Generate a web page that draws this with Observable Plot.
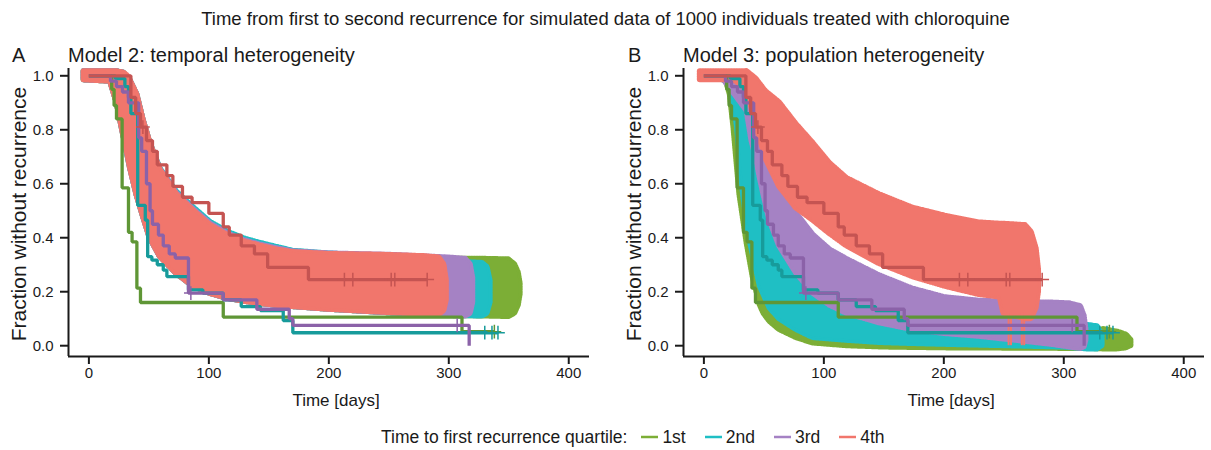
<!DOCTYPE html>
<html><head><meta charset="utf-8">
<script src="https://cdn.jsdelivr.net/npm/d3@7"></script>
<script src="https://cdn.jsdelivr.net/npm/@observablehq/plot@0.6"></script>
<style>
body{margin:0;background:#fff;font-family:"Liberation Sans",Arial,sans-serif;color:#1a1a1a}
#fig{position:relative;width:1211px;height:450px;overflow:hidden;background:#fff}
.abs{position:absolute;white-space:nowrap}
.panel{position:absolute;top:40px}
</style></head><body><div id="fig"></div>
<script>
// ---------- data ----------
const quartiles = ["1st", "2nd", "3rd", "4th"];
const bandColors = ["#7cae36", "#1fbfc4", "#a582c4", "#f1766c"];
const lineColors = ["#5f9636", "#179b9b", "#8b62a8", "#c55452"];
const xTicks = [0, 100, 200, 300, 400];
const yTicks = [0, 0.2, 0.4, 0.6, 0.8, 1.0];
const xDomain = [-17, 417.3];
const yDomain = [-0.04, 1.027];

// observed Kaplan-Meier curves [time, fraction] (same data in both panels)
const obs1 = [[0,1],[19,0.95],[21,0.89],[23,0.84],[27.7,0.585],[33,0.42],[36,0.385],[40,0.213],[43,0.16],[112,0.106],[311,0.052],[338,0.052]];
const obs2 = [[0,1],[22,0.99],[30,0.96],[33,0.92],[35,0.86],[40.7,0.52],[47,0.465],[49,0.33],[52.5,0.317],[57,0.30],[62,0.28],[65,0.256],[83,0.207],[95,0.195],[112,0.17],[127,0.145],[143,0.13],[162,0.093],[170,0.048],[341,0.048]];
const obs3 = [[0,1],[18,0.98],[23,0.96],[28,0.94],[33,0.9],[41.5,0.77],[44,0.72],[48,0.6],[51,0.5],[53,0.45],[58,0.41],[62,0.37],[67,0.34],[72,0.325],[83,0.195],[112,0.17],[140,0.135],[167,0.10],[170,0.075],[317,0]];
const obs4 = [[0,1],[35,0.92],[39,0.86],[43,0.81],[48,0.76],[53,0.72],[57,0.67],[65,0.63],[70,0.59],[78,0.55],[86,0.53],[100,0.49],[112,0.44],[117,0.41],[127,0.37],[138,0.34],[149,0.29],[183,0.245],[282,0.245]];

// censoring marks on observed curves
const cens1 = [[338,0.052]];
const cens2 = [[330,0.048],[336,0.048],[341,0.048]];
const cens3 = [[85,0.195],[307,0.075]];
const cens4 = [[45,0.81],[213,0.245],[220,0.245],[252,0.245],[255,0.245],[282,0.245]];

// simulated envelopes [time, lower, upper] -- Model 2 (panel A)
const simA1 = [[-4,.985,1.015],[18,.98,1.015],[23.5,.9,1.015],[29,.78,1.01],[34.6,.66,.98],[40,.56,.93],[45.6,.477,.83],[51,.4,.75],[59.5,.33,.65],[73,.268,.56],[87,.22,.5],[101,.194,.446],[115,.176,.41],[129,.165,.385],[142,.157,.37],[156,.15,.355],[170,.145,.345],[200,.135,.338],[250,.122,.33],[300,.112,.32],[330,.11,.32],[350,.108,.318],[355,.12,.3],[358,.15,.27],[359.5,.19,.23]];
const simA2 = [[-4,.985,1.015],[18,.98,1.015],[23.5,.9,1.015],[29,.78,1.01],[34.6,.66,.98],[40,.56,.93],[45.6,.477,.83],[51,.4,.75],[59.5,.33,.655],[73,.268,.57],[87,.22,.512],[101,.194,.458],[115,.176,.422],[129,.165,.397],[142,.157,.38],[156,.15,.365],[170,.145,.35],[200,.135,.34],[250,.122,.33],[300,.112,.31],[328,.11,.305],[332,.12,.29],[334.5,.16,.24]];
const simA3 = [[-4,.985,1.015],[18,.98,1.015],[23.5,.9,1.015],[29,.78,1.01],[34.6,.66,.98],[40,.56,.93],[45.6,.477,.83],[51,.4,.75],[59.5,.33,.652],[73,.268,.565],[87,.22,.505],[101,.194,.452],[115,.176,.416],[129,.165,.39],[142,.157,.374],[156,.15,.36],[170,.145,.348],[200,.135,.34],[250,.122,.335],[300,.112,.325],[314,.11,.32],[318,.12,.3],[320,.16,.25]];
const simA4 = [[-4,.985,1.015],[18,.98,1.015],[23.5,.9,1.015],[29,.78,1.01],[32,.72,1.0],[34.6,.66,.98],[40,.56,.93],[45.6,.477,.83],[51,.4,.75],[59.5,.33,.65],[73,.268,.56],[87,.22,.5],[101,.194,.446],[115,.176,.41],[129,.165,.385],[142,.157,.37],[156,.15,.355],[170,.145,.345],[200,.135,.338],[244,.124,.335],[280,.117,.33],[292,.115,.325],[296,.13,.3],[298,.17,.24]];

// simulated envelopes -- Model 3 (panel B)
const simB1 = [[18,.99,1.01],[22,.93,.97],[25,.81,.88],[30,.56,.7],[36,.38,.5],[41,.256,.36],[47,.15,.25],[50,.12,.2],[55,.09,.16],[63,.06,.11],[77,.03,.06],[91,.01,.04],[119,0,.022],[150,-.005,.015],[200,-.008,.012],[300,-.01,.015],[320,-.01,.03],[333,-.012,.06],[345,-.012,.05],[352,-.008,.04],[356,0,.02]];
const simB2 = [[14,.99,1.01],[22,.97,1.01],[25,.9,1],[28,.81,.97],[33,.56,.92],[36,.46,.88],[39,.38,.8],[44,.28,.71],[47,.22,.65],[55,.14,.52],[63,.1,.41],[77,.06,.29],[91,.03,.215],[105,.025,.17],[119,.02,.135],[146,.012,.1],[174,.008,.08],[201,.005,.07],[250,0,.07],[300,-.005,.07],[320,-.012,.075],[328,-.012,.07],[332,0,.04]];
const simB3 = [[16,.99,1.01],[36,.87,1],[40,.76,.96],[44,.69,.9],[47,.62,.84],[50,.56,.77],[55,.465,.69],[63,.37,.6],[77,.27,.49],[91,.195,.41],[105,.15,.355],[119,.12,.32],[146,.085,.26],[174,.06,.21],[201,.045,.178],[229,.035,.165],[260,.02,.16],[290,.005,.158],[305,-.005,.155],[314,-.01,.145],[317,-.005,.11],[318.5,.02,.06]];
const simB4 = [[-3,.985,1.015],[25,.985,1.015],[36,.95,1.015],[43,.83,.99],[44,.81,.985],[50,.72,.95],[52,.69,.94],[63,.59,.9],[77,.51,.82],[91,.465,.75],[105,.415,.675],[119,.37,.62],[146,.305,.56],[174,.256,.51],[201,.22,.48],[229,.19,.455],[247,.18,.45],[250,.12,.45],[268,.1,.445],[273,.1,.42],[277,.14,.36],[279,.2,.28]];
const stripesB4 = [[254,0,.12],[256,0,.12],[265,0,.12],[267,0,.12]];

// ---------- drawing ----------
const observed = [obs1, obs2, obs3, obs4];
const censors = [cens1, cens2, cens3, cens4];
const font = '"Liberation Sans", Arial, sans-serif';

function panel(bands, stripes, width, marginRight) {
  const marks = [];
  bands.forEach((b, i) => {
    const rows = b.map(([t, lo, hi]) => ({t, lo, hi}));
    // ragged outline imitating the censoring crosses of the simulated curves
    marks.push(Plot.areaY(rows, {x: "t", y1: "lo", y2: "hi", fill: "none", stroke: bandColors[i], strokeWidth: 6, strokeDasharray: "1,1.6"}));
    marks.push(Plot.areaY(rows, {x: "t", y1: "lo", y2: "hi", fill: bandColors[i], stroke: bandColors[i], strokeWidth: 1.5}));
  });
  if (stripes) marks.push(Plot.ruleX(stripes, {x: d => d[0], y1: d => d[1], y2: d => d[2], stroke: bandColors[3], strokeWidth: 2}));
  observed.forEach((o, i) => {
    marks.push(Plot.line(o.map(([t, s]) => ({t, s})),
      {x: "t", y: "s", curve: "step-after", stroke: lineColors[i], strokeWidth: 3.3, strokeLinejoin: "miter", strokeLinecap: "butt"}));
  });
  censors.forEach((c, i) => {
    marks.push(Plot.dot(c.map(([t, s]) => ({t, s})), {x: "t", y: "s", symbol: "plus", r: 4.5, stroke: lineColors[i], strokeWidth: 1.5}));
  });
  marks.push(Plot.ruleY([yDomain[0]], {stroke: "#1a1a1a", strokeWidth: 2}));
  marks.push(Plot.ruleX([xDomain[0]], {stroke: "#1a1a1a", strokeWidth: 2}));
  marks.push(Plot.axisX({ticks: xTicks, tickSize: 8, tickPadding: 3, label: null, strokeWidth: 2, stroke: "#1a1a1a"}));
  marks.push(Plot.axisY({ticks: yTicks, tickFormat: d3.format(".1f"), tickSize: 8, tickPadding: 7, label: null, strokeWidth: 2, stroke: "#1a1a1a"}));
  return Plot.plot({
    width, height: 375, marginLeft: 68, marginRight, marginTop: 28, marginBottom: 59,
    x: {domain: xDomain}, y: {domain: yDomain},
    style: {fontSize: "15px", fontFamily: font, color: "#1a1a1a", background: "transparent"},
    marks
  });
}

const fig = document.getElementById("fig");
function addText(txt, css) {
  const d = document.createElement("div");
  d.className = "abs";
  d.textContent = txt;
  Object.assign(d.style, css);
  fig.appendChild(d);
  return d;
}

const pA = panel([simA1, simA2, simA3, simA4], null, 605, 16);
pA.classList.add("panel"); pA.style.left = "0px"; fig.appendChild(pA);
const pB = panel([simB1, simB2, simB3, simB4], stripesB4, 596, 7);
pB.classList.add("panel"); pB.style.left = "615px"; fig.appendChild(pB);

addText("Time from first to second recurrence for simulated data of 1000 individuals treated with chloroquine",
  {left: "0px", width: "1211px", textAlign: "center", top: "9px", fontSize: "18.5px", lineHeight: "19px"});
addText("A", {left: "12px", top: "45px", fontSize: "20px", lineHeight: "20px"});
addText("Model 2: temporal heterogeneity", {left: "68px", top: "45px", fontSize: "20px", lineHeight: "20px"});
addText("B", {left: "628px", top: "45px", fontSize: "20px", lineHeight: "20px"});
addText("Model 3: population heterogeneity", {left: "683px", top: "45px", fontSize: "20px", lineHeight: "20px"});
addText("Time [days]", {left: "336px", top: "392px", fontSize: "17px", lineHeight: "17px", transform: "translateX(-50%)"});
addText("Time [days]", {left: "951px", top: "392px", fontSize: "17px", lineHeight: "17px", transform: "translateX(-50%)"});
addText("Fraction without recurrence", {left: "18px", top: "214px", fontSize: "21px", lineHeight: "21px", transform: "translate(-50%,-50%) rotate(-90deg)"});
addText("Fraction without recurrence", {left: "633px", top: "214px", fontSize: "21px", lineHeight: "21px", transform: "translate(-50%,-50%) rotate(-90deg)"});

// legend
const leg = document.createElement("div");
leg.className = "abs";
Object.assign(leg.style, {left: "381px", top: "427px", fontSize: "17.5px", lineHeight: "20px", display: "flex", alignItems: "center"});
const lt = document.createElement("span"); lt.textContent = "Time to first recurrence quartile:"; lt.style.marginRight = "13px"; leg.appendChild(lt);
quartiles.forEach((q, i) => {
  const item = document.createElement("span");
  item.style.display = "inline-flex"; item.style.alignItems = "center"; item.style.marginRight = "18px";
  item.innerHTML = `<svg width="19" height="10" style="margin-right:3px"><line x1="1" x2="18" y1="5" y2="5" stroke="${bandColors[i]}" stroke-width="2.5"/></svg>`;
  const s = document.createElement("span"); s.textContent = q; item.appendChild(s);
  leg.appendChild(item);
});
fig.appendChild(leg);
</script></body></html>
